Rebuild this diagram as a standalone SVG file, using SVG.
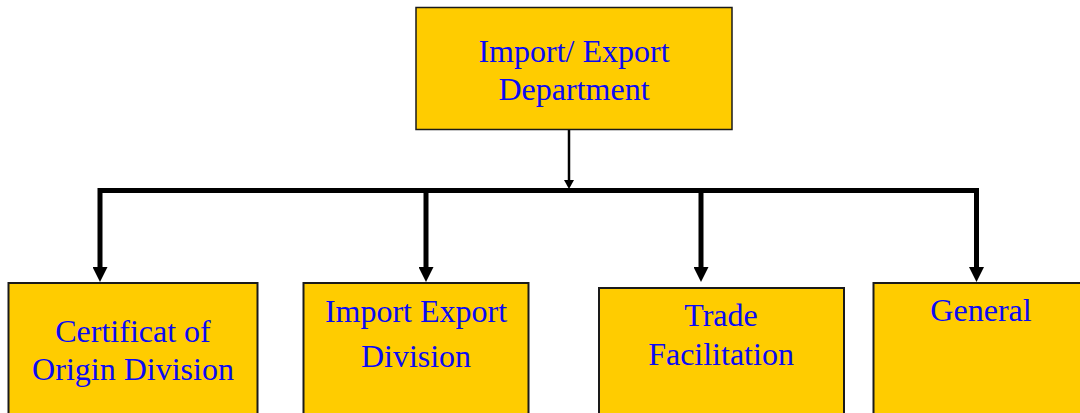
<svg xmlns="http://www.w3.org/2000/svg" width="1080" height="413" viewBox="0 0 1080 413">
<style>
.box{fill:#FFCC00;stroke:#1a1a1a;stroke-width:2}
.lbl{font-family:"Liberation Serif","Times New Roman",serif;font-size:32px;fill:#0A0AF5;text-anchor:middle}
.thick{fill:none;stroke:#000;stroke-width:5;stroke-linejoin:miter}
.thin{fill:none;stroke:#000;stroke-width:2.5}
</style>
<defs>
<marker id="bigArrow" markerUnits="userSpaceOnUse" markerWidth="15" markerHeight="15" refX="5" refY="7.5" orient="auto-start-reverse" viewBox="0 0 15 15">
<path d="M0,0 L15,7.5 L0,15 Z" fill="#000"/>
</marker>
<marker id="smallArrow" markerUnits="userSpaceOnUse" markerWidth="9" markerHeight="10" refX="3" refY="5" orient="auto" viewBox="0 0 9 10">
<path d="M0,0 L9,5 L0,10 Z" fill="#000"/>
</marker>
</defs>
<g id="connectors">
<path class="thin" d="M569,130 V183" marker-end="url(#smallArrow)"/>
<path class="thick" d="M100,272 V190.5 H976.5 V272" marker-start="url(#bigArrow)" marker-end="url(#bigArrow)"/>
<path class="thick" d="M426,190.5 V272" marker-end="url(#bigArrow)"/>
<path class="thick" d="M701,190.5 V272" marker-end="url(#bigArrow)"/>
</g>
<g id="node-dept">
<rect class="box" x="416" y="7.5" width="316" height="122" style="stroke-width:1.5"/>
<text class="lbl" x="574" y="61.5">Import/ Export</text>
<text class="lbl" x="574" y="100">Department</text>
</g>
<g id="node-certificate">
<rect class="box" x="8.5" y="283" width="249" height="140"/>
<text class="lbl" x="133" y="342">Certificat of</text>
<text class="lbl" x="133" y="380">Origin Division</text>
</g>
<g id="node-importexport">
<rect class="box" x="303.5" y="283" width="225" height="140"/>
<text class="lbl" x="416" y="321.5">Import Export</text>
<text class="lbl" x="416" y="366.5">Division</text>
</g>
<g id="node-trade">
<rect class="box" x="599" y="288" width="245" height="140"/>
<text class="lbl" x="721" y="326">Trade</text>
<text class="lbl" x="721" y="365">Facilitation</text>
</g>
<g id="node-general">
<rect class="box" x="873.5" y="283" width="215" height="140"/>
<text class="lbl" x="981" y="320.5">General</text>
</g>
</svg>
